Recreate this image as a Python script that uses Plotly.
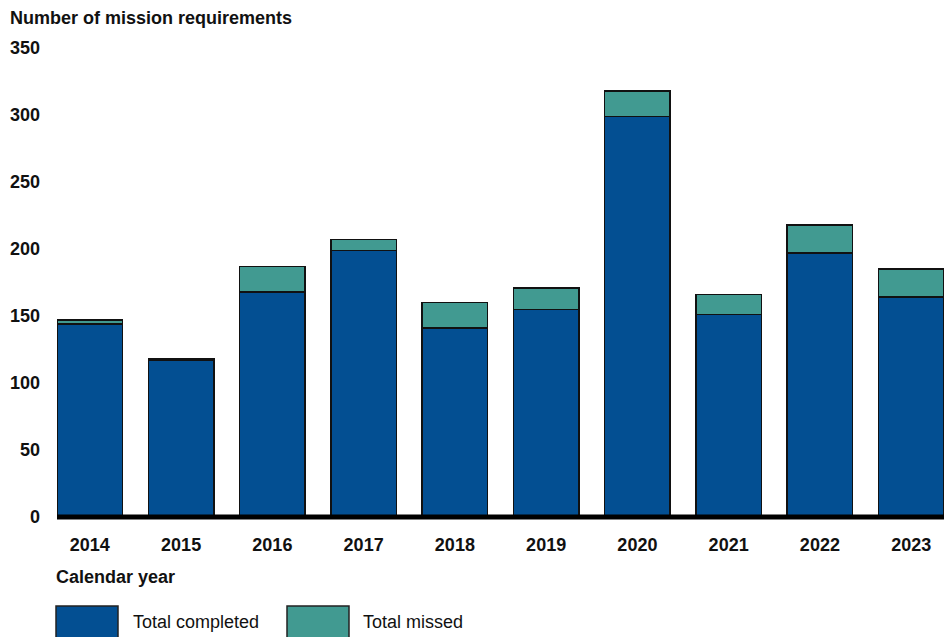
import plotly.graph_objects as go

years = ["2014", "2015", "2016", "2017", "2018", "2019", "2020", "2021", "2022", "2023"]
completed = [144, 117, 168, 199, 141, 155, 299, 151, 197, 164]
missed = [3, 1, 19, 8, 19, 16, 19, 15, 21, 21]
y_ticks = [0, 50, 100, 150, 200, 250, 300, 350]

BLUE = "#034f92"
TEAL = "#419a91"
FONT = "Liberation Sans, Arial, sans-serif"
FS = 18

W, H = 951, 637
L, R, T, B = 57, 7, 48, 120
pw, ph = W - L - R, H - T - B

def px(x):
    return (x - L) / pw

def py(y):
    return (H - B - y) / ph

fig = go.Figure()
fig.add_trace(go.Bar(x=years, y=completed, name="Total completed",
                     marker=dict(color=BLUE, line=dict(color="#111111", width=1.5))))
fig.add_trace(go.Bar(x=years, y=missed, name="Total missed",
                     marker=dict(color=TEAL, line=dict(color="#111111", width=1.5))))

fig.update_layout(
    width=W, height=H,
    margin=dict(l=L, r=R, t=T, b=B),
    barmode="stack",
    bargap=0.28,
    plot_bgcolor="white", paper_bgcolor="white",
    showlegend=False,
    font=dict(family=FONT, color="#111111"),
)
fig.update_xaxes(
    range=[-0.36, 9.36], showgrid=False, showline=False, zeroline=False,
    ticks="", tickfont=dict(size=FS, family=FONT, weight="bold"),
    ticklabelstandoff=15,
)
fig.update_yaxes(
    range=[0, 350], tickvals=y_ticks, showgrid=False, showline=False, zeroline=False,
    ticks="", tickfont=dict(size=FS, family=FONT, weight="bold"),
    ticklabelstandoff=16,
)

shapes = [
    dict(type="line", xref="paper", yref="paper", x0=0, x1=1, y0=0, y1=0,
         line=dict(color="black", width=5), layer="above"),
    dict(type="rect", xref="paper", yref="paper", x0=px(56), x1=px(118), y0=py(606), y1=py(642),
         fillcolor=BLUE, line=dict(color="#222222", width=1.5)),
    dict(type="rect", xref="paper", yref="paper", x0=px(287), x1=px(349), y0=py(606), y1=py(642),
         fillcolor=TEAL, line=dict(color="#222222", width=1.5)),
]
fig.update_layout(shapes=shapes)

anns = [
    dict(text="<b>Number of mission requirements</b>", x=px(8), y=py(18)),
    dict(text="<b>Calendar year</b>", x=px(54), y=py(577)),
    dict(text="Total completed", x=px(131), y=py(622)),
    dict(text="Total missed", x=px(361), y=py(622)),
]
for a in anns:
    fig.add_annotation(xref="paper", yref="paper", xanchor="left", yanchor="middle",
                       showarrow=False, font=dict(size=FS, family=FONT, color="#111111"), **a)

fig.write_html("out.html", config={"displayModeBar": False},
               post_script="document.body.style.margin='0';")
